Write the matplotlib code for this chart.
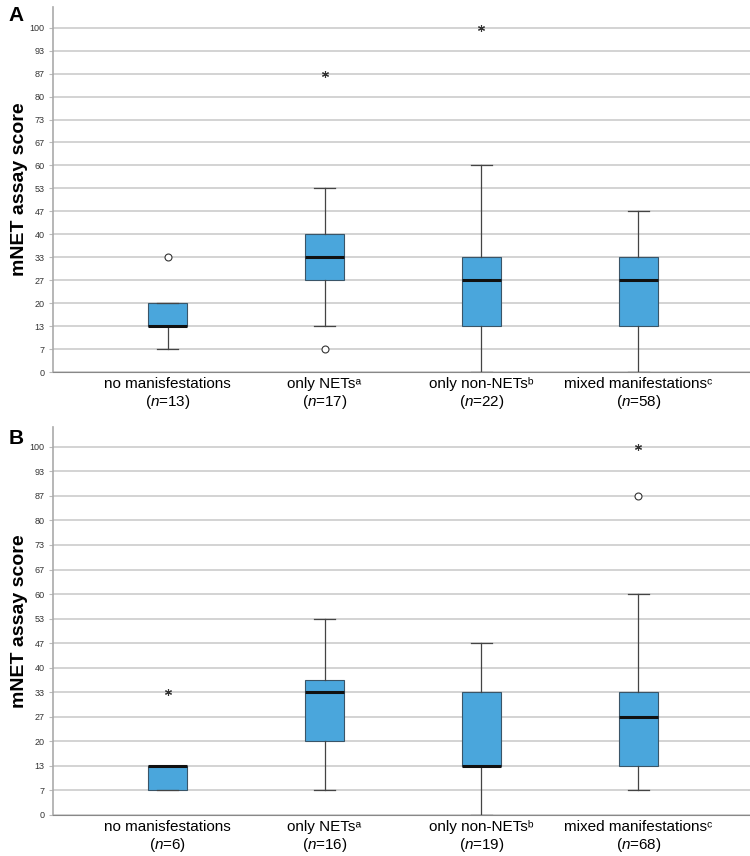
import matplotlib
matplotlib.use("Agg")
import matplotlib.pyplot as plt
from matplotlib.transforms import blended_transform_factory, offset_copy

plt.rcParams['font.family'] = ['Liberation Sans', 'DejaVu Sans']
plt.rcParams['mathtext.fontset'] = 'custom'
plt.rcParams['mathtext.rm'] = 'Liberation Sans'
plt.rcParams['mathtext.it'] = 'Liberation Sans:italic'

# score steps are 1/15 of 100
step = 100 / 15

categories = ["no manisfestations", "only NETs\u1d43",
              "only non-NETs\u1d47", "mixed manifestations\u1d9c"]
tick_labels = ["0", "7", "13", "20", "27", "33", "40", "47", "53", "60",
               "67", "73", "80", "87", "93", "100"]

# panel A (values in steps of 1/15)
n_a = [13, 17, 22, 58]
whislo_a = [1, 2, 0, 0]
q1_a = [2, 4, 2, 2]
med_a = [2, 5, 4, 4]
q3_a = [3, 6, 5, 5]
whishi_a = [3, 8, 9, 7]
circles_a = [(1, 5), (2, 1)]
stars_a = [(2, 13), (3, 15)]

# panel B
n_b = [6, 16, 19, 68]
whislo_b = [1, 1, 0, 1]
q1_b = [1, 3, 2, 2]
med_b = [2, 5, 2, 4]
q3_b = [2, 5.5, 5, 5]
whishi_b = [2, 8, 7, 9]
circles_b = [(4, 13)]
stars_b = [(1, 5), (4, 15)]

box_color = "#4aa6dc"


def draw_panel(ax, n, lo, q1, med, q3, hi, circles, stars, ytop):
    stats = []
    for i in range(4):
        stats.append(dict(whislo=lo[i] * step, q1=q1[i] * step, med=med[i] * step,
                          q3=q3[i] * step, whishi=hi[i] * step, fliers=[]))
    ax.bxp(stats, positions=[1, 2, 3, 4], widths=0.25, patch_artist=True,
           showfliers=False, capwidths=0.13,
           boxprops=dict(facecolor=box_color, edgecolor="#3a5568", linewidth=0.8),
           medianprops=dict(color="#111111", linewidth=2.2),
           whiskerprops=dict(color="#444444", linewidth=0.9),
           capprops=dict(color="#444444", linewidth=0.9), zorder=3)
    for x, y in circles:
        ax.plot(x, y * step, marker="o", ms=5, mfc="white", mec="#333333",
                mew=0.8, ls="none", zorder=4)
    for x, y in stars:
        ax.plot(x, y * step, marker=(6, 2, 0), ms=5, mec="#333333",
                mew=0.8, ls="none", zorder=4)

    ax.set_xlim(0.27, 4.71)
    ax.set_ylim(0, ytop)
    ax.set_yticks([k * step for k in range(16)])
    ax.set_yticklabels(tick_labels, fontsize=6.5, color="#333333")
    ax.yaxis.grid(True, color="#c8c8c8", linewidth=1.1, zorder=0)
    ax.set_axisbelow(True)
    ax.tick_params(axis="y", length=3, width=0.8, color="#bbbbbb", pad=3)
    ax.set_xticks([1, 2, 3, 4])
    ax.set_xticklabels([])
    ax.tick_params(axis="x", length=0)

    # two-line category labels under the axis
    trans = blended_transform_factory(ax.transData, ax.transAxes)
    for i, (c, k) in enumerate(zip(categories, n)):
        t1 = offset_copy(trans, fig=ax.figure, y=-12, units="dots")
        t2 = offset_copy(trans, fig=ax.figure, y=-30, units="dots")
        ax.text(i + 1, 0, c, transform=t1, ha="center", va="center", fontsize=11)
        ax.text(i + 1, 0, "($\\it{n}$=" + str(k) + ")", transform=t2,
                ha="center", va="center", fontsize=11)

    for s in ["top", "right"]:
        ax.spines[s].set_visible(False)
    ax.spines["left"].set_color("#aaaaaa")
    ax.spines["bottom"].set_color("#888888")
    ax.spines["left"].set_linewidth(1.2)
    ax.set_ylabel("mNET assay score", fontsize=14, fontweight="bold", labelpad=1)


fig = plt.figure(figsize=(7.5, 8.56), dpi=100)
ax1 = fig.add_axes([0.0707, 0.5654, 0.929, 0.4264])
ax2 = fig.add_axes([0.0707, 0.0480, 0.929, 0.4532])

draw_panel(ax1, n_a, whislo_a, q1_a, med_a, q3_a, whishi_a, circles_a, stars_a, 106)
draw_panel(ax2, n_b, whislo_b, q1_b, med_b, q3_b, whishi_b, circles_b, stars_b, 105.4)

fig.text(0.011, 0.982, "A", fontsize=15, fontweight="bold", va="center")
fig.text(0.011, 0.488, "B", fontsize=15, fontweight="bold", va="center")

fig.savefig("out.png", dpi=100)
